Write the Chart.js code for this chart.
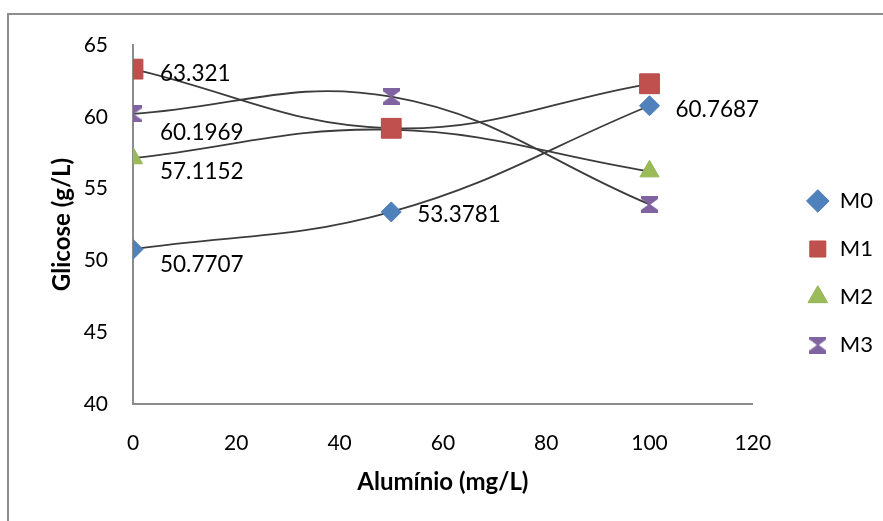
<!DOCTYPE html>
<html>
<head>
<meta charset="utf-8">
<script src="https://cdn.jsdelivr.net/npm/chart.js@4"></script>
<style>
  html, body { margin: 0; padding: 0; background: #fff; }
  #wrap { position: relative; width: 883px; height: 521px; overflow: hidden; }
  #frame { position: absolute; left: 7px; top: 13px; width: 900px; height: 540px;
           border-left: 2px solid #8c8c8c; border-top: 2px solid #8c8c8c; }
  canvas { position: absolute; left: 0; top: 0; }
</style>
</head>
<body>
<div id="wrap">
  <div id="frame"></div>
  <canvas id="chart" width="883" height="521"></canvas>
</div>
<script>
// data
const aluminio = [0, 50, 100];
const m0 = [50.7707, 53.3781, 60.7687];
const m1 = [63.321, 59.2, 62.3];
const m2 = [57.1152, 59.1, 56.2];
const m3 = [60.1969, 61.4, 53.9];
const seriesNames = ['M0', 'M1', 'M2', 'M3'];
const xTicks = [0, 20, 40, 60, 80, 100, 120];
const yTicks = [40, 45, 50, 55, 60, 65];

// which points carry a value label: [datasetIndex, pointIndex]
const labelled = [[0, 0], [0, 1], [0, 2], [1, 0], [2, 0], [3, 0]];

const FONT = 'Lato, "Open Sans", sans-serif';
const lineColor = '#3c3c3c';

function hourglass(color, s) {
    const c = document.createElement('canvas');
    c.width = s; c.height = s;
    const g = c.getContext('2d');
    const h = s / 2, b = Math.round(s * 0.15);
    g.fillStyle = color;
    g.beginPath();
    g.moveTo(0, 0); g.lineTo(s, 0); g.lineTo(s, b); g.lineTo(h + 1, h);
    g.lineTo(s, s - b); g.lineTo(s, s); g.lineTo(0, s); g.lineTo(0, s - b);
    g.lineTo(h - 1, h); g.lineTo(0, b);
    g.closePath();
    g.fill();
    return c;
}

function toXY(ys) {
    return ys.map((y, i) => ({ x: aluminio[i], y: y }));
}

// per-label nudge from its point, like the hand-moved labels in the original
const labelNudge = {
    '0-0': [27, 15], '0-1': [26, 3], '0-2': [26, 4],
    '1-0': [27, 5], '2-0': [27, 14], '3-0': [27, 19]
};

const valueLabels = {
    id: 'valueLabels',
    afterDatasetsDraw(chart) {
        const ctx = chart.ctx;
        ctx.save();
        ctx.font = '22.5px ' + FONT;
        ctx.fillStyle = '#000';
        ctx.textAlign = 'left';
        ctx.textBaseline = 'middle';
        labelled.forEach(([d, i]) => {
            const pt = chart.getDatasetMeta(d).data[i];
            const v = chart.data.datasets[d].data[i].y;
            const n = labelNudge[d + '-' + i];
            ctx.fillText(String(v), pt.x + n[0], pt.y + n[1]);
        });
        ctx.restore();
    }
};

const common = {
    borderColor: lineColor,
    borderWidth: 1.8,
    showLine: true,
    fill: false,
    tension: 0.4,
    pointBorderWidth: 1
};

new Chart(document.getElementById('chart').getContext('2d'), {
    type: 'scatter',
    data: {
        datasets: [
            Object.assign({}, common, {
                label: seriesNames[0], data: toXY(m0),
                pointStyle: 'rectRot', pointRadius: 10,
                pointBackgroundColor: '#4f81bd', pointBorderColor: '#4a7ab3'
            }),
            Object.assign({}, common, {
                label: seriesNames[1], data: toXY(m1),
                pointStyle: 'rect', pointRadius: 14,
                pointBackgroundColor: '#c0504d', pointBorderColor: '#b84a47'
            }),
            Object.assign({}, common, {
                label: seriesNames[2], data: toXY(m2),
                pointStyle: 'triangle', pointRadius: 11,
                pointBackgroundColor: '#9bbb59', pointBorderColor: '#93b254'
            }),
            Object.assign({}, common, {
                label: seriesNames[3], data: toXY(m3),
                pointStyle: hourglass('#8064a2', 17), pointRadius: 10,
                pointBackgroundColor: '#8064a2', pointBorderColor: '#8064a2'
            })
        ]
    },
    options: {
        responsive: false,
        animation: false,
        layout: { padding: { left: 0, top: 45, right: 0, bottom: 20 } },
        plugins: {
            tooltip: { enabled: false },
            legend: {
                position: 'right',
                align: 'center',
                labels: {
                    usePointStyle: true,
                    boxHeight: 16,
                    color: '#000',
                    font: { family: FONT, size: 22 },
                    padding: 26
                }
            }
        },
        scales: {
            x: {
                type: 'linear',
                min: 0, max: 120,
                afterBuildTicks: function(scale) { scale.ticks = xTicks.map(v => ({ value: v })); },
                afterFit: function(scale) { scale.height = 97; },
                grid: { display: false, drawTicks: false },
                border: { display: true, color: '#8c8c8c', width: 2 },
                ticks: { color: '#000', font: { family: FONT, size: 21 }, padding: 27, maxRotation: 0 },
                title: {
                    display: true, text: 'Alumínio (mg/L)', color: '#000',
                    font: { family: FONT, size: 24, weight: 'bold' },
                    padding: { top: 0, bottom: 4 }
                }
            },
            y: {
                min: 40, max: 65,
                afterBuildTicks: function(scale) { scale.ticks = yTicks.map(v => ({ value: v })); },
                afterFit: function(scale) { scale.width = 133; },
                grid: { display: false, drawTicks: false },
                border: { display: true, color: '#8c8c8c', width: 2 },
                ticks: { color: '#000', font: { family: FONT, size: 21 }, padding: 25 },
                title: {
                    display: true, text: 'Glicose (g/L)', color: '#000',
                    font: { family: FONT, size: 24, weight: 'bold' },
                    padding: { top: 48, bottom: 0 }
                }
            },
            // empty axis on the right: keeps a gap between plot and legend
            gap: {
                type: 'linear',
                position: 'right',
                display: true,
                grid: { display: false, drawTicks: false },
                border: { display: false },
                ticks: { display: false },
                afterFit: function(scale) { scale.width = 28; }
            }
        }
    },
    plugins: [valueLabels]
});
</script>
</body>
</html>
